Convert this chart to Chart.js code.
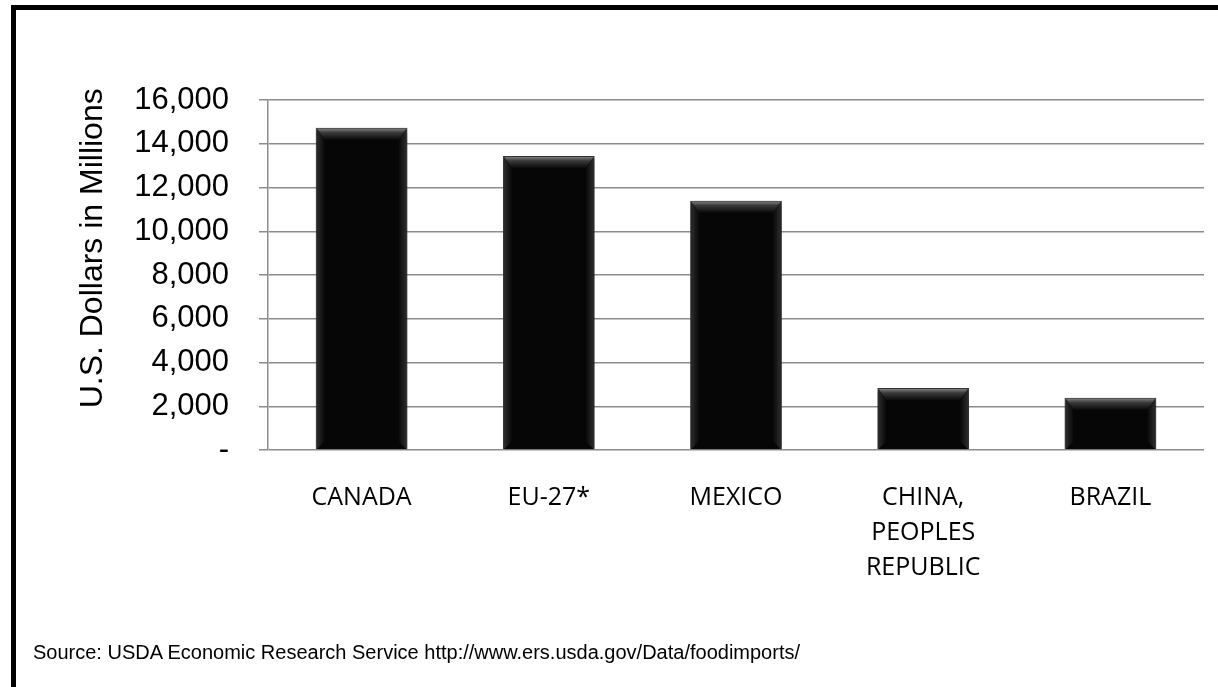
<!DOCTYPE html>
<html>
<head>
<meta charset="utf-8">
<script src="https://cdn.jsdelivr.net/npm/chart.js"></script>
<style>
    html, body { margin: 0; padding: 0; background: #fff; }
    #wrap { position: relative; width: 1218px; height: 687px; overflow: hidden; }
    #myChart { position: absolute; left: 0; top: 0; }
    #frame { position: absolute; left: 11px; top: 5px; width: 1400px; height: 900px; border-left: 5px solid #000; border-top: 5px solid #000; }
    #source { position: absolute; left: 33px; top: 642px; font: 20px/20px "Liberation Sans", Arial, sans-serif; color: #000; white-space: nowrap; }
</style>
</head>
<body>
<div id="wrap">
    <canvas id="myChart" width="1218" height="687"></canvas>
    <div id="frame"></div>
    <div id="source">Source: USDA Economic Research Service http://www.ers.usda.gov/Data/foodimports/</div>
</div>
<script>
// Top sources of US food imports (millions of dollars)
const categories = ['CANADA', 'EU-27*', 'MEXICO', ['CHINA,', 'PEOPLES', 'REPUBLIC'], 'BRAZIL'];
const importValues = [14730, 13440, 11400, 2830, 2390];
const yTickLabels = ['-', '2,000', '4,000', '6,000', '8,000', '10,000', '12,000', '14,000', '16,000'];
const axisTitle = 'U.S. Dollars in Millions';

const gridGray = '#8c8c8c';

// soft shadow under the bars + bevelled edges on top of them
const bevelPlugin = {
    id: 'bevel',
    beforeDatasetsDraw(chart) {
        const ctx = chart.ctx;
        ctx.save();
        ctx.shadowColor = 'rgba(0,0,0,0.45)';
        ctx.shadowBlur = 6;
        ctx.shadowOffsetX = 1;
        ctx.shadowOffsetY = 2;
    },
    afterDatasetsDraw(chart) {
        const ctx = chart.ctx;
        ctx.restore();
        const meta = chart.getDatasetMeta(0);
        meta.data.forEach((bar) => {
            const p = bar.getProps(['x', 'y', 'base', 'width'], true);
            const l = p.x - p.width / 2 + 1, r = p.x + p.width / 2 - 1;
            const t = p.y + 1, b = p.base;
            const bv = Math.min(11, (b - t) / 3);
            const sv = 8;

            let g = ctx.createLinearGradient(0, t, 0, t + bv);
            g.addColorStop(0, '#7a7a7a');
            g.addColorStop(0.35, '#3a3a3a');
            g.addColorStop(1, '#0a0a0a');
            ctx.fillStyle = g;
            ctx.beginPath();
            ctx.moveTo(l, t); ctx.lineTo(r, t); ctx.lineTo(r - sv, t + bv); ctx.lineTo(l + sv, t + bv);
            ctx.closePath(); ctx.fill();

            g = ctx.createLinearGradient(l, 0, l + sv, 0);
            g.addColorStop(0, '#2c2c2c');
            g.addColorStop(1, '#080808');
            ctx.fillStyle = g;
            ctx.beginPath();
            ctx.moveTo(l, t); ctx.lineTo(l + sv, t + bv); ctx.lineTo(l + sv, b - sv); ctx.lineTo(l, b);
            ctx.closePath(); ctx.fill();

            g = ctx.createLinearGradient(r, 0, r - sv, 0);
            g.addColorStop(0, '#2c2c2c');
            g.addColorStop(1, '#080808');
            ctx.fillStyle = g;
            ctx.beginPath();
            ctx.moveTo(r, t); ctx.lineTo(r - sv, t + bv); ctx.lineTo(r - sv, b - sv); ctx.lineTo(r, b);
            ctx.closePath(); ctx.fill();
        });
    }
};

const ctx = document.getElementById('myChart').getContext('2d');
const myChart = new Chart(ctx, {
    type: 'bar',
    data: {
        labels: categories,
        datasets: [{
            data: importValues,
            backgroundColor: '#060606',
            borderColor: '#3c3c3c',
            borderWidth: 1,
            barPercentage: 0.49,
            categoryPercentage: 1
        }]
    },
    options: {
        responsive: false,
        animation: false,
        devicePixelRatio: 1,
        layout: { padding: { left: 20, right: 14, top: 100, bottom: 0 } },
        plugins: {
            legend: { display: false },
            tooltip: { enabled: false }
        },
        scales: {
            x: {
                grid: { display: false, drawTicks: false },
                border: { display: false },
                ticks: {
                    color: '#000',
                    font: { family: '"Open Sans"', size: 25, lineHeight: 1.4 },
                    padding: 30,
                    maxRotation: 0,
                    autoSkip: false
                },
                afterFit: (scale) => { scale.height = 237; }
            },
            y: {
                min: 0,
                max: 16000,
                grid: { color: gridGray, lineWidth: 1.5, tickLength: 9, tickColor: gridGray },
                border: { color: gridGray, width: 1.5 },
                ticks: {
                    stepSize: 2000,
                    autoSkip: false,
                    color: '#000',
                    padding: 30,
                    font: { family: '"Liberation Sans", Arial', size: 31 },
                    callback: (v, i) => yTickLabels[i]
                },
                title: {
                    display: true,
                    text: '      ' + axisTitle,
                    color: '#000',
                    font: { family: '"Liberation Sans", Arial', size: 32 },
                    padding: { top: 54, bottom: 0 }
                },
                afterFit: (scale) => { scale.width = 248; }
            }
        }
    },
    plugins: [bevelPlugin]
});
</script>
</body>
</html>
